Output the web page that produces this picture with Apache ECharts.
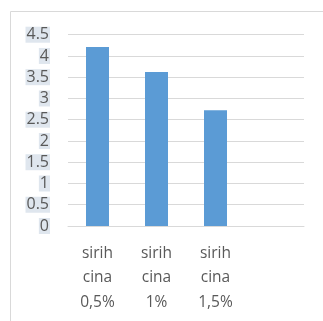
<!DOCTYPE html>
<html><head><meta charset="utf-8">
<script src="https://cdn.jsdelivr.net/npm/echarts@6/dist/echarts.min.js"></script>
<style>html,body{margin:0;padding:0;background:#fff}#c{width:323px;height:321px}</style>
</head><body><div id="c"></div>
<script>
var categories = ['sirih\ncina\n0,5%', 'sirih\ncina\n1%', 'sirih\ncina\n1,5%', ''];
var values = [4.21, 3.62, 2.72, null];
var yTicks = { min: 0, max: 4.5, interval: 0.5 };

var chart = echarts.init(document.getElementById('c'));
chart.setOption({
  animation: false,
  graphic: [{ type: 'rect', shape: { x: 10.5, y: 11.5, width: 330, height: 330 }, style: { fill: 'none', stroke: '#d9d9d9', lineWidth: 1 } }],
  grid: { left: 68, right: 19, top: 34.7, bottom: 95 },
  xAxis: {
    type: 'category', data: categories,
    axisLine: { lineStyle: { color: '#d9d9d9' } }, axisTick: { show: false },
    axisLabel: { color: '#595959', fontSize: 15.5, lineHeight: 24.5, margin: 15, interval: 0, fontFamily: 'Open Sans' }
  },
  yAxis: {
    type: 'value', min: yTicks.min, max: yTicks.max, interval: yTicks.interval,
    axisLine: { show: false }, axisTick: { show: false },
    splitLine: { lineStyle: { color: '#d9d9d9' } },
    axisLabel: { color: '#595959', fontSize: 16, margin: 18, fontFamily: 'Open Sans', backgroundColor: '#dfe6ee', padding: [0, 1, 0, 1],
      formatter: function (v) { return String(v); } }
  },
  series: [{ type: 'bar', data: values, barWidth: 23, itemStyle: { color: '#5b9bd5' } }]
});
</script></body></html>
